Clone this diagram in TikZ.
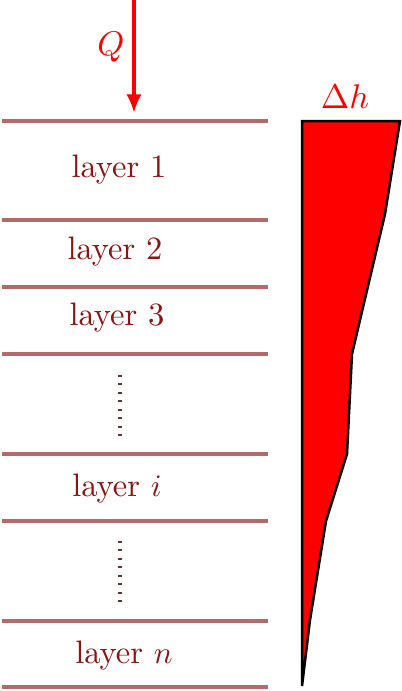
\documentclass[tikz,border=0pt]{standalone}
\usepackage{amsmath,amssymb}
\usepackage{xcolor}
\usepackage{tikz}
\usetikzlibrary{positioning,calc,arrows.meta}

\definecolor{layerline}{RGB}{180,106,106}
\definecolor{layertext}{RGB}{140,20,20}
\definecolor{layerdots}{RGB}{95,55,55}

\tikzset{
    sep/.style={draw=layerline, line width=1.3pt},
    lbl/.style={text=layertext, inner sep=1pt, font=\fontsize{10.4}{12}\selectfont},
    gap/.style={draw=layerdots, line width=1.3pt, dash pattern=on 0.6pt off 2.1pt},
}

\begin{document}
\begin{tikzpicture}[x=0.32pt, y=-0.32pt]
    \useasboundingbox (0,0) rectangle (402,691);

    % Layer boundaries
    \foreach \y in {121,220,287,354,454,521,621,687}
        \draw[sep] (2,\y) -- (268,\y);

    % Layer names
    \node[lbl] (L1) at (119,170) {layer 1};
    \node[lbl] (L2) at (115,252) {layer 2};
    \node[lbl] (L3) at (117,318) {layer 3};
    \node[lbl] (Li) at (117,489) {layer $i$};
    \node[lbl] (Ln) at (124,656) {layer $n$};

    % Skipped layers
    \coordinate (g1a) at (120,375);
    \coordinate (g1b) at (120,436);
    \coordinate (g2a) at (120,541);
    \coordinate (g2b) at (120,602);
    \draw[gap] (g1a) -- (g1b);
    \draw[gap] (g2a) -- (g2b);

    % Heat input
    \coordinate (qtop) at (134,0);
    \coordinate (qend) at (134,113);
    \draw[red, line width=1.3pt, -{Latex[length=6pt, width=5pt]}] (qtop) -- (qend);
    \node[text=red, font=\fontsize{10.8}{12}\selectfont] (Q) at (111,47) {$Q$};

    % Head loss profile
    \draw[fill=red, line width=0.8pt, line join=miter]
        (302,121) -- (400,121) -- (385,214) -- (352,354) -- (347,454)
        -- (326,521) -- (310,620) -- (302,686) -- cycle;
    \node[text=red, font=\fontsize{10.8}{12}\selectfont] (dh) at (345,97) {$\Delta h$};

\end{tikzpicture}
\end{document}
